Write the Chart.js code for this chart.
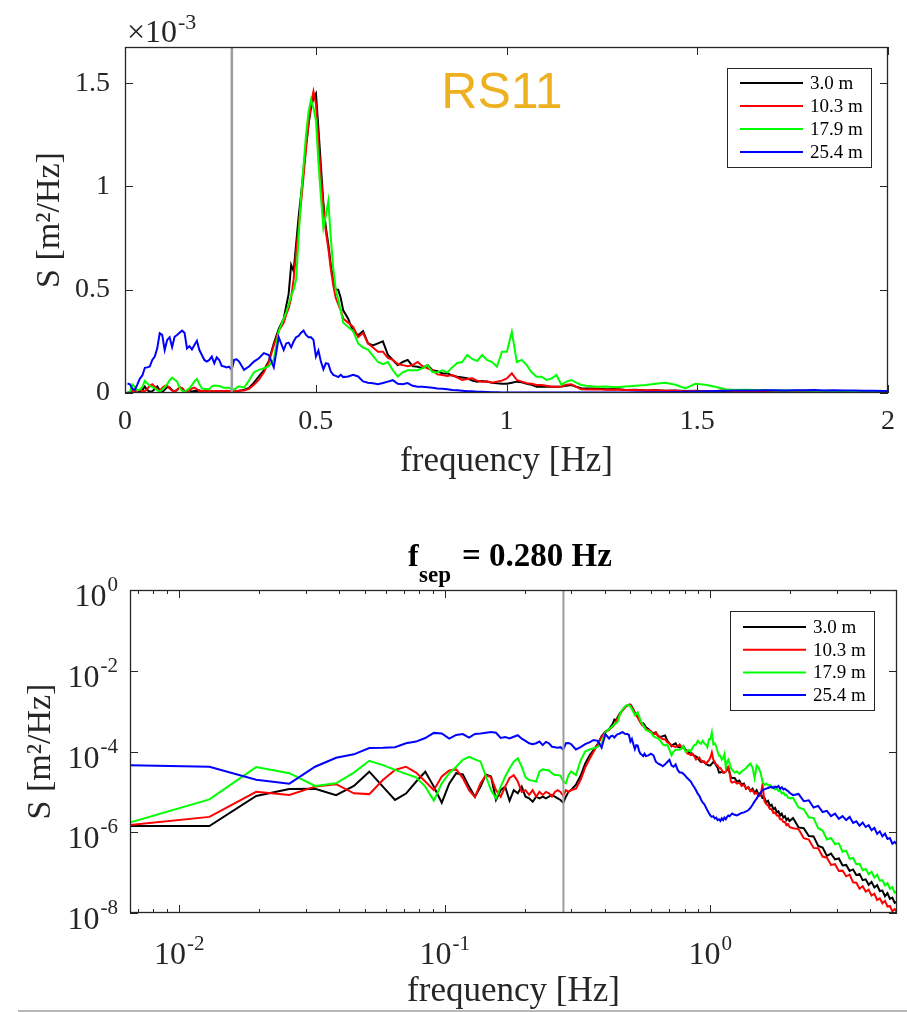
<!DOCTYPE html>
<html><head><meta charset="utf-8">
<script src="https://cdn.jsdelivr.net/npm/chart.js@4.4.1/dist/chart.umd.min.js"></script>
<style>
html,body{margin:0;padding:0;background:#fff;overflow:hidden;width:907px;height:1012px;}
#c1{position:absolute;left:0;top:0;}
#c2{position:absolute;left:0;top:500px;}
#rule{position:absolute;left:18px;top:1010px;width:889px;height:2px;background:#b8b8b8;}
</style></head><body>
<canvas id="c1" width="907" height="490"></canvas>
<canvas id="c2" width="907" height="530"></canvas>
<div id="rule"></div>
<script>
// ---------------- DATA ----------------
const freq = [
 0.0065,0.013,0.0195,0.026,0.0325,0.039,0.0455,0.052,0.0585,0.065,
 0.0715,0.078,0.0845,0.091,0.0975,0.104,0.1105,0.117,0.1235,0.13,
 0.1365,0.143,0.1495,0.156,0.1625,0.169,0.1755,0.182,0.1885,0.195,
 0.2015,0.208,0.2145,0.221,0.2275,0.234,0.2405,0.247,0.2535,0.26,
 0.2665,0.273,0.2795,0.286,0.2925,0.299,
 0.312,0.325,0.338,0.351,0.364,0.377,0.39,0.403,0.416,
 0.4225,0.429,0.4355,0.442,0.4485,0.455,0.4615,0.468,0.4745,0.481,0.4875,0.494,
 0.5005,0.507,0.5135,0.52,0.5265,0.533,0.5395,0.546,0.5525,0.559,0.5655,0.572,
 0.585,0.598,0.611,0.624,0.637,0.65,0.663,0.676,0.689,0.702,0.715,0.728,0.741,0.754,0.767,0.78,0.793,0.806,
 0.819,0.832,0.845,0.858,0.871,0.884,0.897,0.91,0.923,0.936,0.949,0.962,0.975,0.988,1.001,1.014,
 1.027,1.04,1.053,1.066,1.079,1.092,1.105,1.118,1.131,1.144,1.157,1.17,1.183,1.196,1.209,
 1.235,1.261,1.287,1.313,1.339,1.365,1.391,1.417,1.443,1.469,1.495,1.521,1.547,1.573,1.599,
 1.625,1.651,1.677,1.703,1.729,1.755,1.781,1.807,1.833,1.859,1.885,1.911,1.937,1.963,1.989,
 2.05,2.15,2.25,2.35,2.45,2.55,2.65,2.75,2.85,2.95,3.05,3.15,3.25,3.35,3.45,3.55,
 3.65,3.75,3.85,3.95,4.05,4.15,4.25,4.35,4.45,4.55,4.65,4.75,4.85,4.95,5.05
];
// S [m^2/Hz], 3.0 m
const s3m = [
 1.43e-6,1.43e-6,7.9e-6,1.18e-5,1.2e-5,8.3e-6,1.4e-5,3.16e-5,1.35e-5,6.3e-6,
 9.1e-6,1.78e-5,3.16e-5,1.35e-5,5.4e-6,1.6e-5,2.9e-5,2.7e-5,1.35e-5,7.6e-6,
 1.35e-5,2.7e-5,2.4e-5,6.3e-6,1.1e-5,1.35e-5,6.0e-6,1.1e-5,9.2e-6,1.35e-5,
 7.6e-6,6.9e-6,5.7e-6,7.6e-6,6.9e-6,7.6e-6,6.9e-6,7.6e-6,8.4e-6,7.6e-6,
 6.9e-6,6.3e-6,5.4e-6,7.6e-6,1.0e-5,1.1e-5,
 1.5e-5,2.5e-5,5.0e-5,8.0e-5,1.1e-4,1.55e-4,2.4e-4,3.1e-4,3.6e-4,
 4.2e-4,4.8e-4,6.2e-4,5.9e-4,7.2e-4,8.5e-4,9.6e-4,1.08e-3,1.2e-3,1.3e-3,1.38e-3,1.43e-3,
 1.45e-3,1.28e-3,1.1e-3,9.2e-4,8.0e-4,7.2e-4,6.2e-4,5.5e-4,5.0e-4,5.0e-4,4.6e-4,4.0e-4,
 3.6e-4,3.0e-4,2.8e-4,3.0e-4,2.4e-4,2.3e-4,2.4e-4,2.5e-4,1.85e-4,1.6e-4,1.35e-4,1.5e-4,1.6e-4,1.3e-4,1.27e-4,1.2e-4,1.35e-4,1.1e-4,
 1.05e-4,9.5e-5,9.5e-5,8.5e-5,7.9e-5,7.5e-5,7.1e-5,6.0e-5,5.5e-5,5.8e-5,5.5e-5,5.0e-5,4.7e-5,4.5e-5,4.5e-5,5.0e-5,
 5.5e-5,5.2e-5,4.5e-5,4.0e-5,3.0e-5,3.0e-5,3.2e-5,3.0e-5,3.0e-5,3.2e-5,3.5e-5,3.9e-5,3.0e-5,2.3e-5,2.2e-5,
 2.2e-5,1.8e-5,1.9e-5,1.5e-5,1.6e-5,1.2e-5,1.3e-5,1.05e-5,1.2e-5,9.5e-6,1.1e-5,8.5e-6,9.5e-6,7.0e-6,7.2e-6,
 5.5e-6,6.0e-6,4.5e-6,4.8e-6,3.7e-6,4.0e-6,3.1e-6,3.3e-6,2.6e-6,2.9e-6,2.3e-6,2.5e-6,2.0e-6,2.2e-6,1.9e-6,
 2.24e-6,1.32e-6,1.26e-6,8.1e-7,7.9e-7,4.6e-7,4.2e-7,2.6e-7,2.95e-7,2.14e-7,2.24e-7,1.51e-7,1.55e-7,1.1e-7,1.2e-7,8.7e-8,
 9.3e-8,6.5e-8,6.8e-8,5.0e-8,5.9e-8,4.3e-8,4.9e-8,3.5e-8,3.6e-8,2.6e-8,3.1e-8,2.24e-8,2.4e-8,1.78e-8,1.9e-8
];
// 10.3 m
const s10m = [
 1.5e-6,2.4e-6,1.0e-5,8.4e-6,1.35e-5,1.55e-5,9.2e-6,8.8e-6,1.97e-5,3.5e-5,
 4.2e-5,3.0e-5,1.8e-5,1.1e-5,2.4e-5,3.4e-5,3.6e-5,2.2e-5,1.1e-5,7.4e-6,
 1.63e-5,2.6e-5,2.3e-5,1.1e-5,7.6e-6,1.35e-5,2.2e-5,2.6e-5,1.8e-5,1.0e-5,
 1.1e-5,8.4e-6,1.1e-5,7.6e-6,1.0e-5,8.4e-6,1.0e-5,9.2e-6,7.6e-6,1.0e-5,
 1.1e-5,1.0e-5,7.9e-6,1.1e-5,1.0e-5,1.1e-5,
 1.2e-5,2.0e-5,4.0e-5,6.5e-5,1.0e-4,1.5e-4,2.3e-4,3.0e-4,3.4e-4,
 3.8e-4,4.1e-4,4.6e-4,5.5e-4,6.8e-4,8.0e-4,9.2e-4,1.05e-3,1.18e-3,1.3e-3,1.4e-3,1.46e-3,
 1.40e-3,1.22e-3,1.05e-3,9.0e-4,7.8e-4,7.0e-4,6.0e-4,5.2e-4,4.6e-4,4.3e-4,4.0e-4,3.6e-4,
 3.4e-4,3.2e-4,2.7e-4,2.9e-4,2.4e-4,2.2e-4,2.0e-4,2.0e-4,1.7e-4,1.6e-4,1.4e-4,1.35e-4,1.3e-4,1.35e-4,1.5e-4,1.3e-4,1.2e-4,1.1e-4,
 9.0e-5,8.7e-5,8.2e-5,8.7e-5,7.5e-5,6.3e-5,6.8e-5,7.1e-5,6.0e-5,5.5e-5,5.7e-5,5.0e-5,5.5e-5,6.0e-5,7.1e-5,9.5e-5,
 6.3e-5,5.5e-5,4.7e-5,4.5e-5,3.9e-5,3.9e-5,3.5e-5,3.0e-5,3.0e-5,3.2e-5,4.0e-5,4.2e-5,3.0e-5,1.8e-5,1.7e-5,
 1.8e-5,1.6e-5,1.7e-5,1.4e-5,1.5e-5,1.2e-5,1.3e-5,1.05e-5,1.1e-5,9.0e-6,9.5e-6,7.8e-6,8.0e-6,1.5e-5,6.0e-6,
 5.0e-6,4.6e-6,3.8e-6,3.7e-6,3.0e-6,3.1e-6,2.6e-6,2.6e-6,2.1e-6,2.1e-6,1.8e-6,1.8e-6,1.5e-6,1.6e-6,1.35e-6,
 1.26e-6,1.2e-6,7.1e-7,6.6e-7,4.1e-7,4.0e-7,2.5e-7,2.34e-7,1.55e-7,1.62e-7,1.1e-7,1.12e-7,8.1e-8,8.9e-8,5.75e-8,5.6e-8,
 4.0e-8,4.6e-8,3.4e-8,3.8e-8,2.7e-8,3.0e-8,2.1e-8,2.3e-8,1.74e-8,2.0e-8,1.45e-8,1.5e-8,1.1e-8,1.26e-8,1.05e-8
];
// 17.9 m
const s17m = [
 1.73e-6,6.5e-6,4.1e-5,2.9e-5,1.4e-5,1.63e-5,3.0e-5,5.9e-5,4.6e-5,3.5e-5,
 2.8e-5,2.3e-5,1.35e-5,6.1e-6,1.63e-5,2.9e-5,4.2e-5,6.2e-5,7.4e-5,6.4e-5,
 5.6e-5,2.4e-5,1.1e-5,6.9e-6,1.35e-5,2.4e-5,3.8e-5,5.6e-5,6.8e-5,4.2e-5,
 2.3e-5,1.97e-5,1.9e-5,1.8e-5,3.2e-5,3.6e-5,3.5e-5,3.4e-5,2.9e-5,2.6e-5,
 2.6e-5,2.5e-5,1.8e-5,1.63e-5,2.6e-5,3.2e-5,
 2.6e-5,6.0e-5,1.0e-4,1.12e-4,1.2e-4,1.3e-4,1.6e-4,3.0e-4,3.6e-4,
 3.9e-4,4.3e-4,4.7e-4,5.0e-4,5.5e-4,7.5e-4,9.5e-4,1.1e-3,1.25e-3,1.36e-3,1.42e-3,1.38e-3,
 1.32e-3,1.12e-3,9.5e-4,8.0e-4,8.6e-4,9.3e-4,7.5e-4,6.0e-4,5.0e-4,4.5e-4,4.0e-4,3.4e-4,
 3.2e-4,3.0e-4,2.4e-4,2.2e-4,2.1e-4,1.8e-4,1.5e-4,1.4e-4,1.5e-4,1.1e-4,8.0e-5,1.0e-4,1.1e-4,1.1e-4,1.1e-4,1.2e-4,1.35e-4,1.0e-4,
 1.0e-4,1.1e-4,1.0e-4,1.25e-4,1.45e-4,1.5e-4,1.84e-4,1.65e-4,1.55e-4,1.84e-4,1.6e-4,1.5e-4,1.27e-4,2.0e-4,2.0e-4,2.97e-4,
 1.5e-4,1.6e-4,1.35e-4,1.0e-4,7.9e-5,7.9e-5,6.3e-5,7.0e-5,8.7e-5,4.0e-5,5.5e-5,6.3e-5,5.0e-5,3.9e-5,3.5e-5,
 3.0e-5,3.2e-5,2.8e-5,3.2e-5,3.5e-5,3.9e-5,4.5e-5,5.0e-5,4.0e-5,2.2e-5,4.5e-5,4.0e-5,3.0e-5,1.8e-5,1.5e-5,
 1.6e-5,1.45e-5,1.5e-5,1.25e-5,1.35e-5,1.15e-5,1.2e-5,1.05e-5,1.1e-5,9.2e-6,9.6e-6,8.3e-6,8.5e-6,7.2e-6,7.0e-6,
 7.1e-6,4.1e-6,3.7e-6,2.34e-6,2.24e-6,1.26e-6,1.1e-6,6.6e-7,7.2e-7,5.1e-7,5.3e-7,3.3e-7,3.5e-7,2.2e-7,2.3e-7,1.62e-7,
 1.66e-7,1.15e-7,1.23e-7,9.1e-8,1.05e-7,7.6e-8,8.9e-8,6.3e-8,6.5e-8,4.8e-8,5.5e-8,4.0e-8,4.4e-8,3.2e-8,3.4e-8
];
// 25.4 m
const s25m = [
 4.6e-5,4.2e-5,2.0e-5,1.6e-5,4.2e-5,7.0e-5,8.5e-5,1.22e-4,1.24e-4,1.28e-4,
 1.6e-4,1.76e-4,2.16e-4,2.89e-4,2.81e-4,2.08e-4,2.57e-4,2.7e-4,2.22e-4,2.72e-4,
 2.81e-4,2.92e-4,3.02e-4,2.92e-4,2.16e-4,2.27e-4,2.11e-4,2.32e-4,2.53e-4,2.08e-4,
 1.84e-4,1.6e-4,1.52e-4,1.6e-4,1.76e-4,1.44e-4,1.73e-4,1.6e-4,1.31e-4,1.28e-4,
 1.24e-4,1.28e-4,1.12e-4,1.6e-4,1.63e-4,1.52e-4,
 1.12e-4,1.28e-4,1.52e-4,1.68e-4,1.93e-4,1.84e-4,1.24e-4,2.7e-4,2.08e-4,
 2.4e-4,2.44e-4,2.22e-4,2.49e-4,2.7e-4,2.76e-4,2.92e-4,3.02e-4,2.81e-4,2.7e-4,2.7e-4,2.57e-4,
 1.76e-4,2.05e-4,1.52e-4,1.15e-4,1.44e-4,1.41e-4,1.04e-4,8.8e-5,8.3e-5,7.7e-5,8.8e-5,7.7e-5,
 8.0e-5,8.8e-5,8.0e-5,5.6e-5,5.0e-5,4.7e-5,4.3e-5,4.8e-5,5.5e-5,6.2e-5,4.5e-5,4.2e-5,4.8e-5,3.5e-5,3.0e-5,3.0e-5,2.8e-5,2.5e-5,
 2.2e-5,2.0e-5,1.8e-5,1.5e-5,1.3e-5,1.1e-5,9.0e-6,8.0e-6,6.5e-6,5.5e-6,5.0e-6,4.2e-6,3.5e-6,3.0e-6,2.6e-6,2.4e-6,
 2.5e-6,2.2e-6,2.3e-6,2.0e-6,2.1e-6,1.9e-6,2.2e-6,2.0e-6,2.3e-6,2.1e-6,2.4e-6,2.6e-6,2.5e-6,2.7e-6,2.9e-6,
 2.7e-6,2.6e-6,2.8e-6,3.0e-6,3.1e-6,3.3e-6,3.5e-6,4.0e-6,4.8e-6,5.8e-6,6.8e-6,8.2e-6,9.5e-6,1.1e-5,1.15e-5,
 1.2e-5,1.25e-5,1.3e-5,1.35e-5,1.25e-5,1.35e-5,1.3e-5,1.4e-5,1.2e-5,1.3e-5,1.15e-5,1.2e-5,1.1e-5,1.05e-5,9.5e-6,
 8.3e-6,8.9e-6,5.9e-6,6.2e-6,4.1e-6,4.5e-6,3.16e-6,3.4e-6,2.5e-6,2.9e-6,2.14e-6,2.5e-6,2.0e-6,2.4e-6,1.7e-6,1.86e-6,
 1.45e-6,1.74e-6,1.35e-6,1.5e-6,1.12e-6,1.29e-6,9.1e-7,1.05e-6,7.9e-7,9.3e-7,6.8e-7,7.2e-7,5.2e-7,5.75e-7,5.0e-7
];
const seriesLabels = ['3.0 m', '10.3 m', '17.9 m', '25.4 m'];
const seriesColors = ['#000000', '#ff0000', '#00ff00', '#0000ff'];
const fSep = 0.280;
const topXTicks = [0, 0.5, 1, 1.5, 2];
const topYTicks = [0, 0.5e-3, 1e-3, 1.5e-3];
const logXTicks = [1e-2, 1e-1, 1e0];
const logXMinorTicks = [0.007,0.008,0.009,0.02,0.03,0.04,0.05,0.06,0.07,0.08,0.09,0.2,0.3,0.4,0.5,0.6,0.7,0.8,0.9,2,3,4,5];
const logYTicks = [1e-8, 1e-6, 1e-4, 1e-2, 1e0];

[s3m, s10m, s17m, s25m].forEach((a, i) => { if (a.length !== freq.length) throw new Error('length mismatch ' + i + ': ' + a.length + ' vs ' + freq.length); });

// ---------------- DRAWING ----------------
const AX = '#262626';
const SERIF = "'Liberation Serif', 'Times New Roman', serif";
Chart.defaults.font.family = SERIF;
Chart.defaults.color = AX;

function pts(vals) { return freq.map((f, i) => ({ x: f, y: vals[i] })); }
function makeDatasets() {
  return [s3m, s10m, s17m, s25m].map((v, i) => ({
    label: seriesLabels[i], data: pts(v), borderColor: seriesColors[i], backgroundColor: seriesColors[i],
    borderWidth: 2, pointRadius: 0, pointHoverRadius: 0, fill: false, tension: 0, order: 4 - i
  }));
}
function drawLegend(chart, L) {
  const ctx = chart.ctx;
  ctx.save();
  ctx.fillStyle = '#fff'; ctx.fillRect(L.x, L.y, L.w, L.h);
  ctx.strokeStyle = AX; ctx.lineWidth = 1; ctx.strokeRect(L.x + 0.5, L.y + 0.5, L.w, L.h);
  ctx.font = L.size + 'px ' + SERIF; ctx.textBaseline = 'middle'; ctx.textAlign = 'left';
  chart.data.datasets.forEach((ds, i) => {
    const y = L.row0 + i * L.step;
    ctx.strokeStyle = ds.borderColor; ctx.lineWidth = 2;
    ctx.beginPath(); ctx.moveTo(L.lx0, y); ctx.lineTo(L.lx1, y); ctx.stroke();
    ctx.fillStyle = '#000'; ctx.fillText(ds.label, L.tx, y + 1);
  });
  ctx.restore();
}
function drawSepLine(chart, w) {
  const { ctx, chartArea: a, scales: { x } } = chart;
  const px = x.getPixelForValue(fSep);
  ctx.save(); ctx.strokeStyle = '#9c9c9c'; ctx.lineWidth = w;
  ctx.beginPath(); ctx.moveTo(px, a.top); ctx.lineTo(px, a.bottom); ctx.stroke(); ctx.restore();
}
function drawFrame(chart, xt, yt, xminor) {
  const { ctx, chartArea: a, scales: { x, y } } = chart;
  const L = 8, M = 4;
  ctx.save(); ctx.strokeStyle = AX; ctx.lineWidth = 1;
  ctx.beginPath();
  xt.forEach(v => { const p = Math.round(x.getPixelForValue(v)) + 0.5; ctx.moveTo(p, a.bottom); ctx.lineTo(p, a.bottom - L); ctx.moveTo(p, a.top); ctx.lineTo(p, a.top + L); });
  (xminor || []).forEach(v => { const p = Math.round(x.getPixelForValue(v)) + 0.5; ctx.moveTo(p, a.bottom); ctx.lineTo(p, a.bottom - M); ctx.moveTo(p, a.top); ctx.lineTo(p, a.top + M); });
  yt.forEach(v => { const p = Math.round(y.getPixelForValue(v)) + 0.5; ctx.moveTo(a.left, p); ctx.lineTo(a.left + L, p); ctx.moveTo(a.right, p); ctx.lineTo(a.right - L, p); });
  ctx.stroke();
  ctx.lineWidth = 1.3;
  ctx.strokeRect(Math.round(a.left) + 0.5, Math.round(a.top) + 0.5, Math.round(a.right - a.left) - 1, Math.round(a.bottom - a.top) - 1);
  ctx.restore();
}

// ---- top chart (linear) ----
const topPlugin = {
  id: 'topDecor',
  afterDraw(chart) {
    drawSepLine(chart, 2.5);
    drawFrame(chart, topXTicks, topYTicks);
    drawLegend(chart, { x: 727, y: 68, w: 144, h: 99, row0: 83, step: 23, lx0: 740, lx1: 803, tx: 810, size: 19 });
    const ctx = chart.ctx;
    ctx.save();
    ctx.fillStyle = AX; ctx.textBaseline = 'alphabetic'; ctx.textAlign = 'left';
    ctx.font = '32px ' + SERIF; ctx.fillText('\u00d710', 127, 42);
    const w = ctx.measureText('\u00d710').width;
    ctx.font = '22px ' + SERIF; ctx.fillText('-3', 127 + w + 1, 29);
    ctx.fillStyle = '#EDB120'; ctx.textAlign = 'center';
    ctx.font = "50px 'Liberation Sans', Arial, sans-serif"; ctx.fillText('RS11', 502, 108);
    ctx.restore();
  }
};
new Chart(document.getElementById('c1'), {
  type: 'line',
  data: { datasets: makeDatasets() },
  options: {
    responsive: false, animation: false, devicePixelRatio: 1, events: [],
    layout: { padding: { left: 0, top: 47, right: 14, bottom: 0 }, autoPadding: false },
    plugins: { legend: { display: false }, tooltip: { enabled: false } },
    scales: {
      x: {
        type: 'linear', min: 0, max: 2,
        afterBuildTicks: s => { s.ticks = topXTicks.map(v => ({ value: v })); },
        afterFit: s => { s.height = 97; },
        ticks: { callback: v => String(v), font: { size: 28 }, color: AX, padding: 12, maxRotation: 0, autoSkip: false },
        grid: { display: false, drawTicks: false }, border: { display: false },
        title: { display: true, text: 'frequency [Hz]', font: { size: 35 }, color: AX, padding: { top: 0, bottom: 7 } }
      },
      y: {
        type: 'linear', min: 0, max: 1.675e-3,
        afterBuildTicks: s => { s.ticks = topYTicks.map(v => ({ value: v })); },
        afterFit: s => { s.width = 125; },
        ticks: { callback: v => String(Math.round(v * 1e4) / 10), font: { size: 28 }, color: AX, padding: 15, autoSkip: false },
        grid: { display: false, drawTicks: false }, border: { display: false },
        title: { display: true, text: 'S [m\u00b2/Hz]', font: { size: 34 }, color: AX, padding: { top: 30, bottom: 0 } }
      }
    }
  },
  plugins: [topPlugin]
});

// ---- bottom chart (log-log) ----
const botPlugin = {
  id: 'botDecor',
  afterDraw(chart) {
    drawSepLine(chart, 2);
    drawFrame(chart, logXTicks, logYTicks, logXMinorTicks);
    drawLegend(chart, { x: 730, y: 611 - 500, w: 144, h: 99, row0: 627 - 500, step: 22.7, lx0: 743, lx1: 806, tx: 813, size: 19 });
    const { ctx, chartArea: a, scales: { x, y } } = chart;
    ctx.save(); ctx.fillStyle = AX; ctx.textBaseline = 'alphabetic';
    logXTicks.forEach(v => {
      const e = String(Math.round(Math.log10(v)));
      ctx.font = '32px ' + SERIF; const wb = ctx.measureText('10').width;
      ctx.font = '21px ' + SERIF; const we = ctx.measureText(e).width;
      const px = x.getPixelForValue(v); const x0 = px - (wb + we + 1) / 2;
      ctx.textAlign = 'left';
      ctx.font = '32px ' + SERIF; ctx.fillText('10', x0, a.bottom + 51);
      ctx.font = '21px ' + SERIF; ctx.fillText(e, x0 + wb + 1, a.bottom + 37);
    });
    logYTicks.forEach(v => {
      const e = String(Math.round(Math.log10(v)));
      const py = y.getPixelForValue(v);
      const xr = a.left - 12;
      ctx.textAlign = 'right';
      ctx.font = '21px ' + SERIF; const we = ctx.measureText(e).width; ctx.fillText(e, xr, py + 1);
      ctx.font = '32px ' + SERIF; ctx.fillText('10', xr - we - 1, py + 16);
    });
    // title f_sep = 0.280 Hz
    ctx.fillStyle = '#000'; ctx.textAlign = 'left';
    ctx.font = 'bold 32px ' + SERIF; ctx.fillText('f', 408, 66);
    ctx.font = 'bold 23px ' + SERIF; ctx.fillText('sep', 419, 82);
    ctx.font = 'bold 33px ' + SERIF; ctx.fillText('= 0.280 Hz', 462, 66);
    ctx.restore();
  }
};
new Chart(document.getElementById('c2'), {
  type: 'line',
  data: { datasets: makeDatasets() },
  options: {
    responsive: false, animation: false, devicePixelRatio: 1, events: [],
    layout: { padding: { left: 0, top: 90, right: 10, bottom: 0 }, autoPadding: false },
    plugins: { legend: { display: false }, tooltip: { enabled: false } },
    scales: {
      x: {
        type: 'logarithmic', min: 0.00653, max: 5.05,
        afterBuildTicks: s => { s.ticks = logXTicks.map(v => ({ value: v })); },
        afterFit: s => { s.height = 117; },
        ticks: { display: false },
        grid: { display: false, drawTicks: false }, border: { display: false },
        title: { display: true, text: 'frequency [Hz]', font: { size: 35 }, color: AX, padding: { top: 0, bottom: 17 } }
      },
      y: {
        type: 'logarithmic', min: 1e-8, max: 1,
        afterBuildTicks: s => { s.ticks = logYTicks.map(v => ({ value: v })); },
        afterFit: s => { s.width = 130; },
        ticks: { display: false },
        grid: { display: false, drawTicks: false }, border: { display: false },
        title: { display: true, text: 'S [m\u00b2/Hz]', font: { size: 34 }, color: AX, padding: { top: 21, bottom: 0 } }
      }
    }
  },
  plugins: [botPlugin]
});
</script>
</body></html>
